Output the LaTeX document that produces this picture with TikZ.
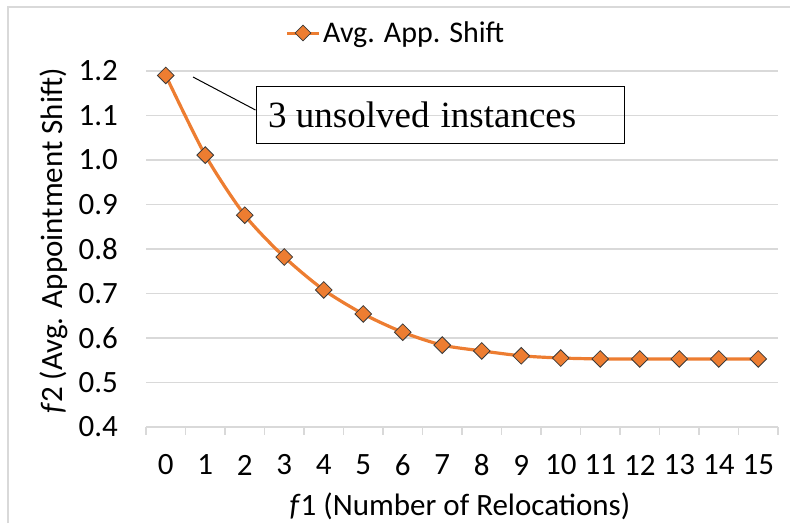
\documentclass[tikz,border=0pt]{standalone}
\usepackage{fontspec}
\setmainfont{Carlito}
\newfontfamily\notefont{Liberation Serif}
\usetikzlibrary{shapes.geometric}
\definecolor{series}{HTML}{ED7D31}
\definecolor{gridc}{HTML}{D9D9D9}
\definecolor{markedge}{HTML}{3A3A3A}
\begin{document}
\begin{tikzpicture}[x=1pt,y=-1pt,
  lbl/.style={inner sep=0pt,font=\fontsize{31}{37}\selectfont},
  gridline/.style={draw=gridc,line width=1.2pt},
  marker/.style={diamond,draw=markedge,fill=series,line width=0.8pt,
                 minimum width=17pt,minimum height=17pt,inner sep=0pt},
  seriesline/.style={draw=series,line width=3.2pt,line join=round}]
\useasboundingbox (0,0) rectangle (790,523);
% chart frame
\draw[gridline] (8,523) -- (8,7) -- (790,7);
% horizontal grid lines and value labels
\foreach \t [count=\k] in {0.5,0.6,0.7,0.8,0.9,1.0,1.1,1.2}
  \draw[gridline] (146,{427-44.5*\k}) -- (778,{427-44.5*\k});
\foreach \t [count=\k from 0] in {0.4,0.5,0.6,0.7,0.8,0.9,1.0,1.1,1.2}
  \node[lbl,anchor=east] (y\k) at (118,{427-44.5*\k}) {\t};
% category axis with tick marks
\draw[gridline] (146,427) -- (778,427);
\foreach \k in {0,...,16}
  \draw[gridline] ({146+39.5*\k},427) -- ({146+39.5*\k},435);
\foreach \k in {0,...,15}
  \node[lbl] (x\k) at ({165.75+39.5*\k},465) {\k};
% axis titles
\node[lbl,anchor=base] (xt) at (460,515) {\textit{f}1 (Number of Relocations)};
\node[lbl,anchor=base,rotate=90] (yt) at (62,241) {\textit{f}2 (Avg. Appointment Shift)};
% data points
\foreach \v [count=\i from 0] in {1.19,1.011,0.876,0.782,0.708,0.654,0.613,0.584,
                                   0.571,0.560,0.555,0.553,0.553,0.553,0.553,0.553}
  \coordinate (p\i) at ({165.75+39.5*\i},{427-(\v-0.4)*445});
\draw[seriesline] plot[smooth,tension=0.45] coordinates {(p0) (p1) (p2) (p3) (p4) (p5)
  (p6) (p7) (p8) (p9) (p10) (p11) (p12) (p13) (p14) (p15)};
\foreach \i in {0,...,15}
  \node[marker] (m\i) at (p\i) {};
% legend
\coordinate (lg1) at (287,33);
\coordinate (lg2) at (319,33);
\draw[draw=series,line width=3pt] (lg1) -- (lg2);
\node[marker,minimum width=16pt,minimum height=16pt] (lgm) at (303,33) {};
\node[lbl,anchor=base west,font=\fontsize{30}{36}\selectfont] (lgt) at (323,42) {Avg. App. Shift};
% annotation
\node[draw=black,line width=1pt,minimum width=368pt,minimum height=57pt,inner sep=0pt]
  (note) at (440,114.5) {};
\node[inner sep=0pt,anchor=base west,font=\notefont\fontsize{37}{44}\selectfont]
  (notetext) at (268,127) {3 unsolved\hspace{0.3em}instances};
\coordinate (lead) at (193,77);
\draw[black,line width=1pt] (lead) -- (note.west|-0,110);
\end{tikzpicture}
\end{document}
